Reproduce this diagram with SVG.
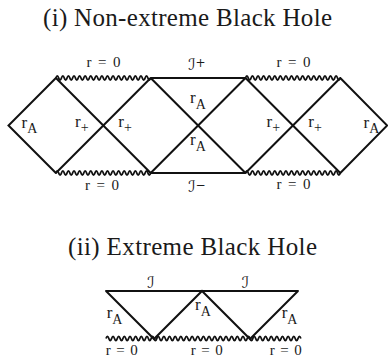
<svg xmlns="http://www.w3.org/2000/svg" width="388" height="358" viewBox="0 0 388 358">
<style>
.ln{stroke:#111;stroke-width:2;fill:none;stroke-linecap:round;stroke-linejoin:miter}
.zz{stroke:#111;stroke-width:1.8;fill:none}
.tx{font-family:'Liberation Serif','Times New Roman',serif;fill:#1a1a1a}
.ttl{font-size:25px}
.lab{font-size:15px;text-anchor:middle}
.r{font-size:17px}
.sub{font-size:14px}
.scr{font-size:16px;font-style:italic;font-family:'DejaVu Serif','DejaVu Sans',serif}
</style>
<rect width="388" height="358" fill="#fff"/>
<g class="tx">
<text class="ttl" x="43" y="25.5" textLength="289" lengthAdjust="spacing">(i) Non-extreme Black Hole</text>
<text class="ttl" x="68" y="255" textLength="249" lengthAdjust="spacing">(ii) Extreme Black Hole</text>
</g>
<g id="connectors">
<path class="ln" d="M55.9 78 L8.5 125.5 L55.9 173 M55.9 78 L150.7 173 M55.9 173 L150.7 78 M150.7 78 L245.5 173 M150.7 173 L245.5 78 M245.5 78 L340.3 173 M245.5 173 L340.3 78 M340.3 78 L387.2 125.5 L340.3 173 M150.7 78 H245.5 M150.7 173 H245.5"/>
<path id="zz1" class="zz" d="M55.9 78 q1.394 -4.4 2.788 0 t2.788 0 t2.788 0 t2.788 0 t2.788 0 t2.788 0 t2.788 0 t2.788 0 t2.788 0 t2.788 0 t2.788 0 t2.788 0 t2.788 0 t2.788 0 t2.788 0 t2.788 0 t2.788 0 t2.788 0 t2.788 0 t2.788 0 t2.788 0 t2.788 0 t2.788 0 t2.788 0 t2.788 0 t2.788 0 t2.788 0 t2.788 0 t2.788 0 t2.788 0 t2.788 0 t2.788 0 t2.788 0 t2.788 0"/>
<use href="#zz1" x="189.6"/>
<use href="#zz1" y="95"/>
<use href="#zz1" x="189.6" y="95"/>
<path class="ln" d="M106 291 H298 M106 291 L154 339 L202 291 L250 339 L298 291"/>
<path class="zz" d="M106 338.5 q1.412 -4.4 2.824 0 t2.824 0 t2.824 0 t2.824 0 t2.824 0 t2.824 0 t2.824 0 t2.824 0 t2.824 0 t2.824 0 t2.824 0 t2.824 0 t2.824 0 t2.824 0 t2.824 0 t2.824 0 t2.824 0 t2.824 0 t2.824 0 t2.824 0 t2.824 0 t2.824 0 t2.824 0 t2.824 0 t2.824 0 t2.824 0 t2.824 0 t2.824 0 t2.824 0 t2.824 0 t2.824 0 t2.824 0 t2.824 0 t2.824 0 t2.824 0 t2.824 0 t2.824 0 t2.824 0 t2.824 0 t2.824 0 t2.824 0 t2.824 0 t2.824 0 t2.824 0 t2.824 0 t2.824 0 t2.824 0 t2.824 0 t2.824 0 t2.824 0 t2.824 0 t2.824 0 t2.824 0 t2.824 0 t2.824 0 t2.824 0 t2.824 0 t2.824 0 t2.824 0 t2.824 0 t2.824 0 t2.824 0 t2.824 0 t2.824 0 t2.824 0 t2.824 0 t2.824 0 t2.824 0 t2.824 0"/>
</g>
<g id="labels-i" class="tx">
<text class="lab" x="103.5" y="67" textLength="34" lengthAdjust="spacing">r = 0</text>
<text class="lab" x="293.5" y="67" textLength="34" lengthAdjust="spacing">r = 0</text>
<text class="lab" x="102" y="189.5" textLength="34" lengthAdjust="spacing">r = 0</text>
<text class="lab" x="293.5" y="188.5" textLength="34" lengthAdjust="spacing">r = 0</text>
<text class="scr" x="188" y="70">ℐ<tspan font-size="12" font-style="normal" dy="-3">+</tspan></text>
<text class="scr" x="188" y="192">ℐ<tspan font-size="12" font-style="normal" dy="-3">−</tspan></text>
<text class="r" x="21.5" y="127.5">r<tspan class="sub" dy="5.5">A</tspan></text>
<text class="r" x="75" y="127">r<tspan class="sub" dy="4.5">+</tspan></text>
<text class="r" x="118.3" y="127">r<tspan class="sub" dy="4.5">+</tspan></text>
<text class="r" x="190" y="103">r<tspan class="sub" dy="5.5">A</tspan></text>
<text class="r" x="190" y="145">r<tspan class="sub" dy="6">A</tspan></text>
<text class="r" x="266.5" y="127">r<tspan class="sub" dy="4.5">+</tspan></text>
<text class="r" x="308.3" y="127">r<tspan class="sub" dy="4.5">+</tspan></text>
<text class="r" x="363.5" y="127.5">r<tspan class="sub" dy="5.5">A</tspan></text>
</g>
<g id="labels-ii" class="tx">
<text class="scr" x="147" y="288">ℐ</text>
<text class="scr" x="241.5" y="288">ℐ</text>
<text class="r" x="106.7" y="318">r<tspan class="sub" dy="6">A</tspan></text>
<text class="r" x="195" y="310">r<tspan class="sub" dy="5.5">A</tspan></text>
<text class="r" x="281.7" y="318">r<tspan class="sub" dy="6">A</tspan></text>
<text class="lab" x="121.7" y="355" textLength="32" lengthAdjust="spacing">r = 0</text>
<text class="lab" x="206.7" y="355" textLength="32" lengthAdjust="spacing">r = 0</text>
<text class="lab" x="285.7" y="355" textLength="32" lengthAdjust="spacing">r = 0</text>
</g>
</svg>
